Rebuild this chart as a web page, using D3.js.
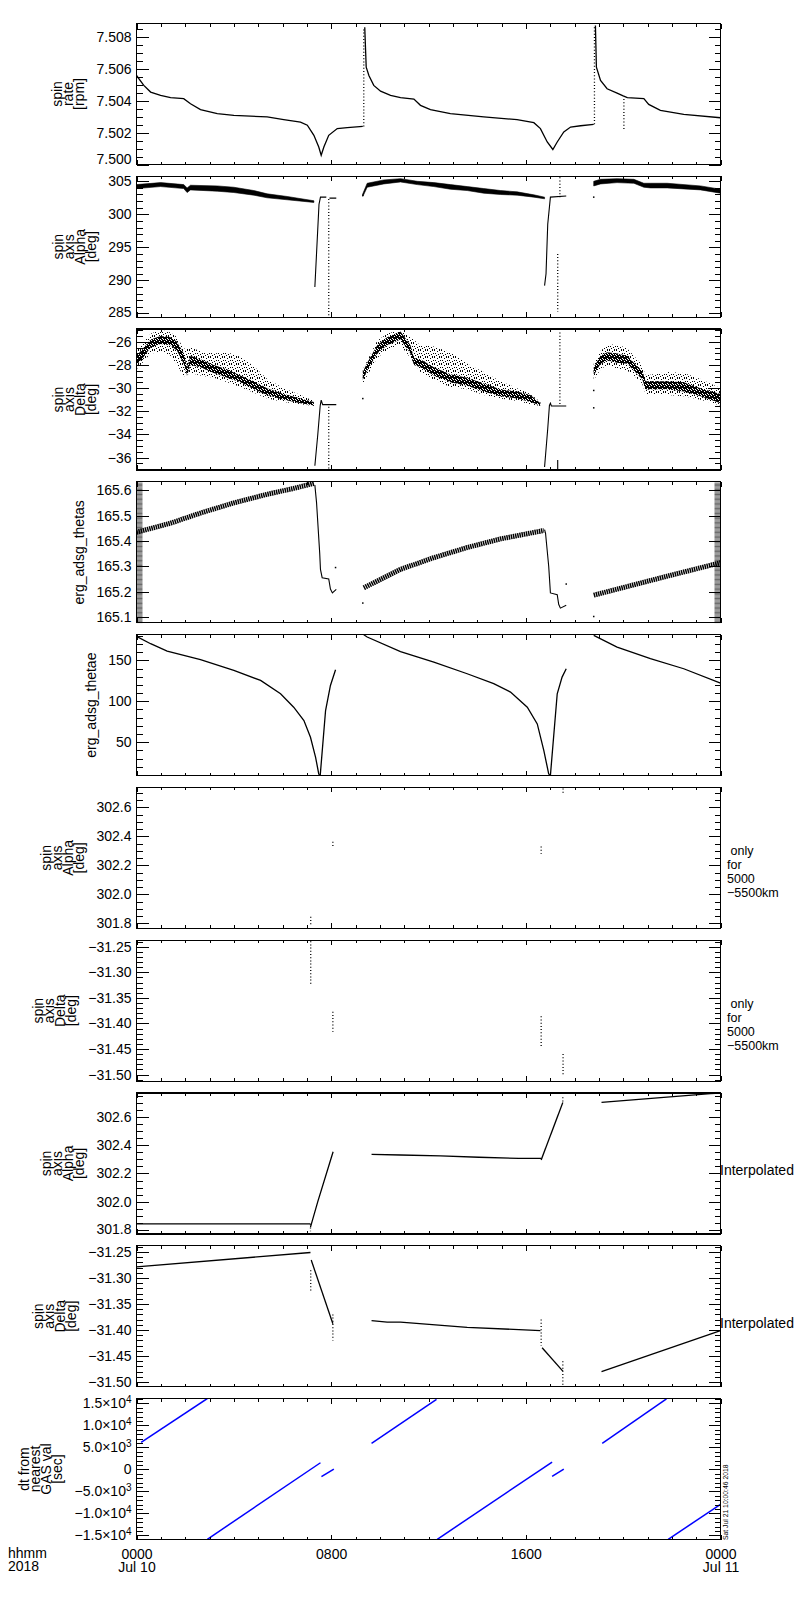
<!DOCTYPE html>
<html>
<head>
<meta charset="utf-8">
<script src="https://cdnjs.cloudflare.com/ajax/libs/d3/7.8.5/d3.min.js"></script>
<style>
  body { margin: 0; background: #fff; }
  text { font-family: "Liberation Sans", Arial, sans-serif; fill: #000; }
</style>
</head>
<body>
<div id="chart"></div>
<script>
// time axis: hours after 0000 Jul 10 2018
var hourTicks = [0, 8, 16, 24];
var hourLabels = ["0000", "0800", "1600", "0000"];
var dayLabels = ["Jul 10", "", "", "Jul 11"];

// ---- panel 1: spin rate [rpm] ----
var rateDomain = [7.5000, 7.50884];
var rateTicks = [7.500, 7.502, 7.504, 7.506, 7.508];
var rateLines = [
  [[0, 7.50558], [0.30, 7.50496], [0.58, 7.50454], [0.99, 7.50433], [1.40, 7.50419], [1.94, 7.50413],
   [2.22, 7.50381], [2.63, 7.50344], [3.32, 7.50319], [4.00, 7.50308], [5.37, 7.50298], [6.05, 7.50281],
   [6.74, 7.50266], [7.02, 7.50246], [7.29, 7.50183], [7.49, 7.50110], [7.59, 7.50058], [7.70, 7.50110],
   [7.90, 7.50183], [8.25, 7.50225], [8.66, 7.50231], [9.30, 7.50239]],
  [[9.38, 7.50860], [9.44, 7.50610], [9.55, 7.50558], [9.75, 7.50496], [10.03, 7.50460], [10.44, 7.50433],
   [10.85, 7.50419], [11.40, 7.50410], [11.67, 7.50371], [12.08, 7.50344], [12.90, 7.50319], [14.27, 7.50298],
   [15.64, 7.50281], [16.33, 7.50262], [16.60, 7.50225], [16.88, 7.50141], [17.11, 7.50094], [17.29, 7.50141],
   [17.56, 7.50204], [17.84, 7.50235], [18.25, 7.50243], [18.79, 7.50252]],
  [[18.86, 7.50871], [18.90, 7.50610], [19.07, 7.50527], [19.34, 7.50475], [19.75, 7.50448], [20.00, 7.50430],
   [20.17, 7.50419], [20.85, 7.50413], [21.05, 7.50377], [21.53, 7.50340], [22.49, 7.50314], [24.00, 7.50293]]
];
var rateDotted = [
  [[9.34, 7.50239], [9.34, 7.50860]],
  [[18.82, 7.50252], [18.82, 7.50871]],
  [[20.03, 7.50410], [20.03, 7.50220]]
];

// ---- panel 2: spin axis alpha [deg] ----
var alphaDomain = [284.4, 305.76];
var alphaTicks = [285, 290, 295, 300, 305];
var alphaBands = [
  [[0, 303.9, 304.5], [0.99, 304.2, 304.8], [1.94, 303.9, 304.5], [2.08, 303.3, 304.0], [2.22, 303.7, 304.4],
   [3.32, 303.5, 304.3], [4.00, 303.3, 304.1], [4.82, 302.9, 303.6], [5.37, 302.5, 303.1], [6.19, 302.2, 302.7],
   [7.29, 301.8, 302.05]],
  [[9.30, 302.7, 303.1], [9.48, 304.1, 304.7], [10.16, 304.6, 305.2], [10.85, 304.9, 305.4], [11.54, 304.5, 305.0],
   [12.22, 304.2, 304.8], [12.90, 303.8, 304.5], [13.59, 303.6, 304.2], [14.27, 303.2, 303.9], [14.96, 303.0, 303.6],
   [15.64, 302.9, 303.4], [16.33, 302.6, 302.95], [16.77, 302.35, 302.6]],
  [[18.79, 304.3, 305.0], [19.07, 304.6, 305.3], [19.75, 304.8, 305.4], [20.44, 304.7, 305.3], [20.85, 304.1, 304.7],
   [21.12, 304.0, 304.7], [21.81, 304.0, 304.7], [23.18, 303.7, 304.3], [24.00, 303.2, 303.8]]
];
var alphaLines = [
  [[7.33, 289.0], [7.50, 301.5], [7.56, 302.6], [7.80, 302.6]],
  [[7.93, 302.45], [8.21, 302.45]],
  [[16.77, 289.2], [16.83, 291.0], [16.90, 298.5], [17.01, 302.6], [17.66, 302.77]]
];
var alphaDotted = [
  [[7.90, 302.3], [7.90, 284.4]],
  [[17.31, 294.0], [17.31, 285.2]],
  [[17.40, 305.6], [17.40, 302.6]]
];
var alphaDots = [[9.30, 302.9], [18.79, 302.6]];

// ---- panel 3: spin axis delta [deg] ----
var deltaDomain = [-37.07, -24.9];
var deltaTicks = [-36, -34, -32, -30, -28, -26];
var deltaScatter = [
  [[0, -28.4, -26.8], [0.58, -27.0, -25.3], [0.99, -26.9, -24.95], [1.40, -27.2, -25.2], [1.67, -28.0, -25.6],
   [1.94, -29.0, -26.6], [2.22, -28.7, -26.5], [2.63, -28.9, -26.8], [3.18, -29.1, -27.0], [3.73, -29.5, -26.9],
   [4.27, -29.9, -27.3], [4.82, -30.4, -28.1], [5.37, -30.9, -29.2], [6.05, -31.2, -30.0], [6.74, -31.4, -30.6],
   [7.29, -31.55, -31.1]],
  [[9.30, -29.6, -28.4], [9.89, -27.4, -25.9], [10.30, -26.7, -25.3], [10.85, -26.3, -24.95], [11.26, -27.4, -25.6],
   [11.67, -28.6, -26.3], [12.22, -29.3, -26.4], [12.90, -29.9, -26.9], [13.59, -30.1, -27.9], [14.27, -30.6, -28.6],
   [14.96, -30.9, -29.4], [15.64, -31.1, -30.0], [16.19, -31.4, -30.5], [16.60, -31.55, -31.2]],
  [[18.79, -29.3, -27.9], [19.07, -28.4, -26.8], [19.34, -28.0, -26.3], [19.75, -28.3, -26.2], [20.17, -28.5, -26.6],
   [20.44, -28.9, -27.2], [20.78, -29.6, -28.0], [20.92, -30.5, -28.9], [21.81, -30.6, -28.6], [22.49, -30.7, -28.7],
   [23.18, -31.0, -29.2], [24.00, -31.5, -30.0]]
];
var deltaCore = [
  [[0, -28.0, -27.2], [0.30, -27.3, -26.5], [0.58, -26.5, -25.8], [0.99, -26.2, -25.5], [1.40, -26.3, -25.6],
   [1.67, -26.8, -26.0], [1.94, -27.9, -27.0], [2.08, -28.9, -28.2], [2.22, -28.0, -27.2], [2.63, -28.2, -27.5],
   [3.18, -28.7, -28.0], [3.73, -29.1, -28.4], [4.27, -29.5, -28.9], [4.82, -30.1, -29.4], [5.37, -30.6, -30.0],
   [6.05, -31.0, -30.5], [6.74, -31.3, -30.9], [7.29, -31.5, -31.2]],
  [[9.30, -29.3, -28.6], [9.48, -28.5, -27.8], [9.89, -27.0, -26.3], [10.30, -26.3, -25.6], [10.85, -25.8, -25.1],
   [11.26, -27.0, -26.3], [11.40, -28.0, -27.4], [11.67, -28.2, -27.5], [12.22, -28.9, -28.2], [12.90, -29.5, -28.8],
   [13.59, -29.8, -29.1], [14.27, -30.3, -29.6], [14.96, -30.7, -30.1], [15.64, -30.9, -30.3], [16.19, -31.2, -30.6],
   [16.60, -31.5, -31.3]],
  [[18.79, -28.9, -28.2], [19.07, -27.9, -27.2], [19.34, -27.6, -26.9], [19.75, -27.8, -27.0], [20.17, -27.9, -27.2],
   [20.44, -28.5, -27.8], [20.78, -29.2, -28.5], [20.92, -30.1, -29.4], [21.81, -30.1, -29.4], [22.49, -30.3, -29.5],
   [23.18, -30.7, -30.0], [24.00, -31.3, -30.5]]
];
var deltaLines = [
  [[7.33, -36.7], [7.45, -34.0], [7.55, -31.5], [7.59, -31.04], [7.65, -31.42], [8.21, -31.42]],
  [[16.77, -36.8], [16.90, -33.5], [16.97, -31.48], [17.01, -31.3], [17.05, -31.54], [17.66, -31.54]],
  [[17.31, -36.2], [17.31, -37.0]]
];
var deltaDotted = [
  [[7.90, -31.6], [7.90, -37.0]],
  [[17.40, -25.2], [17.40, -31.5]]
];
var deltaDots = [[9.30, -30.9], [18.79, -30.2], [18.79, -31.7]];

// ---- panel 4: erg_adsg_thetas ----
var thetasDomain = [165.077, 165.633];
var thetasTicks = [165.1, 165.2, 165.3, 165.4, 165.5, 165.6];
var thetasBands = [
  [[0, 165.434], [1.40, 165.470], [2.63, 165.510], [4.00, 165.550], [5.37, 165.584], [6.46, 165.607], [7.29, 165.627]],
  [[9.34, 165.215], [10.85, 165.288], [12.22, 165.334], [13.59, 165.374], [14.96, 165.408], [16.74, 165.441]],
  [[18.79, 165.186], [20.44, 165.227], [21.81, 165.261], [24.00, 165.314]]
];
var thetasLines = [
  [[7.33, 165.620], [7.40, 165.550], [7.53, 165.350], [7.56, 165.288], [7.63, 165.255], [7.90, 165.250],
   [7.97, 165.210], [8.05, 165.195], [8.21, 165.209]],
  [[16.77, 165.445], [16.81, 165.430], [16.94, 165.300], [17.01, 165.195], [17.29, 165.188], [17.35, 165.150],
   [17.42, 165.135], [17.66, 165.146]]
];
var thetasDots = [[8.18, 165.295], [17.66, 165.230], [9.30, 165.155], [18.79, 165.102]];

// ---- panel 5: erg_adsg_thetae ----
var thetaeDomain = [9.2, 181.5];
var thetaeTicks = [50, 100, 150];
var thetaeLines = [
  [[0, 179.4], [0.58, 170.4], [1.26, 161.4], [2.63, 150.8], [4.00, 137.7], [5.10, 125.5], [5.92, 109.2],
   [6.46, 92.8], [6.88, 76.5], [7.15, 56.1], [7.36, 31.6], [7.49, 11.2], [7.53, 9.5]],
  [[7.55, 9.5], [7.77, 88.7], [7.97, 119.4], [8.18, 138.6]],
  [[9.34, 181.3], [9.48, 178.6], [10.85, 160.8], [12.22, 148.0], [13.59, 133.7], [14.68, 121.5], [15.37, 111.3],
   [16.06, 92.8], [16.47, 72.4], [16.74, 39.8], [16.94, 11.2], [17.00, 9.5]],
  [[17.01, 9.5], [17.29, 109.2], [17.49, 129.6], [17.66, 139.8]],
  [[18.79, 180.6], [19.75, 166.3], [21.12, 152.1], [22.49, 139.8], [24.00, 122.3]]
];

// ---- panels 6-7: spin axis only for 5000-5500 km ----
var alphaOnlyDomain = [301.766, 302.738];
var alphaOnlyTicks = [301.8, 302.0, 302.2, 302.4, 302.6];
var alphaOnlyDotted = [
  [[7.16, 301.846], [7.16, 301.789]],
  [[8.07, 302.363], [8.07, 302.325]],
  [[16.63, 302.330], [16.63, 302.280]],
  [[17.53, 302.730], [17.53, 302.700]]
];
var deltaOnlyDomain = [-31.513, -31.237];
var deltaOnlyTicks = [-31.50, -31.45, -31.40, -31.35, -31.30, -31.25];
var deltaOnlyDotted = [
  [[7.16, -31.239], [7.16, -31.324]],
  [[8.07, -31.377], [8.07, -31.416]],
  [[16.63, -31.386], [16.63, -31.445]],
  [[17.53, -31.460], [17.53, -31.500]]
];

// ---- panels 8-9: spin axis interpolated ----
var alphaInterpDomain = [301.771, 302.771];
var alphaInterpLines = [
  [[0, 301.843], [7.15, 301.843]],
  [[7.15, 301.819], [7.45, 302.000], [8.08, 302.354]],
  [[9.66, 302.336], [10.85, 302.331], [12.49, 302.325], [14.07, 302.315], [15.71, 302.307], [16.63, 302.307]],
  [[16.63, 302.295], [17.52, 302.704]],
  [[19.11, 302.704], [23.59, 302.766], [24.00, 302.770]]
];
var alphaInterpDotted = [
  [[7.15, 301.840], [7.15, 301.790]],
  [[17.52, 302.740], [17.52, 302.700]]
];
var deltaInterpDomain = [-31.509, -31.238];
var deltaInterpLines = [
  [[0, -31.2785], [7.15, -31.251]],
  [[7.18, -31.2655], [8.07, -31.388]],
  [[9.66, -31.382], [10.30, -31.385], [10.85, -31.385], [13.59, -31.395], [16.60, -31.401]],
  [[16.67, -31.434], [17.52, -31.479]],
  [[19.11, -31.480], [24.00, -31.401]]
];
var deltaInterpDotted = [
  [[7.16, -31.285], [7.16, -31.324]],
  [[8.07, -31.370], [8.07, -31.420]],
  [[16.63, -31.380], [16.63, -31.430]],
  [[17.52, -31.460], [17.52, -31.505]]
];

// ---- panel 10: dt from nearest GAS val [sec] ----
var dtDomain = [-15950, 16100];
var dtTicks = [-15000, -10000, -5000, 0, 5000, 10000, 15000];
var dtLines = [
  [[0.19, 6150], [2.91, 16100]],
  [[2.91, -15900], [7.56, 1500]],
  [[7.60, -1660], [8.11, 70]],
  [[9.66, 5920], [12.33, 15900]],
  [[12.36, -15900], [17.08, 1660]],
  [[17.08, -1600], [17.56, 70]],
  [[19.14, 5920], [21.78, 16000]],
  [[21.85, -15900], [24.00, -7970]]
];

// ---------------------------------------------------------------
var svgWidth = 800;
var svgHeight = 1600;
var plotLeft = 136.5;
var plotRight = 720.5;
var panelTop0 = 23.5;
var panelStep = 152.78;
var panelHeight = 141;

var x = d3.scaleLinear().domain([0, 24]).range([plotLeft, plotRight]);

var svg = d3.select("#chart")
  .append("svg")
  .attr("width", svgWidth)
  .attr("height", svgHeight);

// stipple patterns for the noisy delta points
var defs = svg.append("defs");
var stipple = defs.append("pattern")
  .attr("id", "stipple")
  .attr("patternUnits", "userSpaceOnUse")
  .attr("width", 7).attr("height", 7);
[[0, 0], [3, 1], [5, 0], [1, 3], [6, 3], [4, 4], [2, 5], [5, 6], [0, 6]].forEach(function(p) {
  stipple.append("rect").attr("x", p[0]).attr("y", p[1]).attr("width", 1).attr("height", 1).attr("fill", "#000");
});
var dense = defs.append("pattern")
  .attr("id", "dense")
  .attr("patternUnits", "userSpaceOnUse")
  .attr("width", 5).attr("height", 5);
dense.append("rect").attr("width", 5).attr("height", 5).attr("fill", "#000");
[[1, 0], [4, 1], [2, 3], [0, 4], [3, 4]].forEach(function(p) {
  dense.append("rect").attr("x", p[0]).attr("y", p[1]).attr("width", 1).attr("height", 1).attr("fill", "#fff");
});

function fmtDt(d) {
  if (d === 0) return ["0", ""];
  var e = Math.floor(Math.log10(Math.abs(d)));
  var m = d / Math.pow(10, e);
  return [d3.format(".1f")(m) + "\u00d710", String(e)];
}

var panels = [
  { title: ["spin", "rate", "[rpm]"], domain: rateDomain, ticks: rateTicks, minor: 0.0005, fmt: d3.format(".3f"),
    draw: function(g, y) {
      addLines(g, y, rateLines, 1.3);
      addDotted(g, y, rateDotted);
    } },
  { title: ["spin", "axis", "Alpha", "[deg]"], domain: alphaDomain, ticks: alphaTicks, minor: 1, fmt: d3.format("d"),
    draw: function(g, y) {
      addBands(g, y, alphaBands, "#000");
      addLines(g, y, alphaLines, 1.1);
      addDotted(g, y, alphaDotted);
      addDots(g, y, alphaDots);
    } },
  { title: ["spin", "axis", "Delta", "[deg]"], domain: deltaDomain, ticks: deltaTicks, minor: 0.5, fmt: d3.format("d"),
    draw: function(g, y) {
      addBands(g, y, deltaScatter, "url(#stipple)");
      addBands(g, y, deltaCore, "url(#dense)");
      addLines(g, y, deltaLines, 1.1);
      addDotted(g, y, deltaDotted);
      addDots(g, y, deltaDots);
    } },
  { title: ["erg_adsg_thetas"], domain: thetasDomain, ticks: thetasTicks, minor: 0.005, fmt: d3.format(".1f"),
    draw: function(g, y) {
      g.selectAll(null).data(thetasBands).enter().append("path")
        .attr("d", lineOf(y))
        .attr("fill", "none")
        .attr("stroke", "#000")
        .attr("stroke-width", 5)
        .attr("stroke-dasharray", "1.5,0.7");
      addLines(g, y, thetasLines, 1.1);
      addDots(g, y, thetasDots);
    } },
  { title: ["erg_adsg_thetae"], domain: thetaeDomain, ticks: thetaeTicks, minor: 10, fmt: d3.format("d"),
    draw: function(g, y) {
      addLines(g, y, thetaeLines, 1.3);
    } },
  { title: ["spin", "axis", "Alpha", "[deg]"], domain: alphaOnlyDomain, ticks: alphaOnlyTicks, minor: 0.05, fmt: d3.format(".1f"),
    note: [" only", "for", "5000", "\u22125500km"], noteDy: -3, noteSize: 12.5,
    draw: function(g, y) {
      addDotted(g, y, alphaOnlyDotted);
    } },
  { title: ["spin", "axis", "Delta", "[deg]"], domain: deltaOnlyDomain, ticks: deltaOnlyTicks, minor: 0.01, fmt: d3.format(".2f"),
    note: [" only", "for", "5000", "\u22125500km"], noteDy: -3, noteSize: 12.5,
    draw: function(g, y) {
      addDotted(g, y, deltaOnlyDotted);
    } },
  { title: ["spin", "axis", "Alpha", "[deg]"], domain: alphaInterpDomain, ticks: alphaOnlyTicks, minor: 0.05, fmt: d3.format(".1f"),
    note: ["Interpolated"], noteDy: 12, noteX: 720, noteSize: 14,
    draw: function(g, y) {
      addLines(g, y, alphaInterpLines, 1.3);
      addDotted(g, y, alphaInterpDotted);
    } },
  { title: ["spin", "axis", "Delta", "[deg]"], domain: deltaInterpDomain, ticks: deltaOnlyTicks, minor: 0.01, fmt: d3.format(".2f"),
    note: ["Interpolated"], noteDy: 12, noteX: 720, noteSize: 14,
    draw: function(g, y) {
      addLines(g, y, deltaInterpLines, 1.3);
      addDotted(g, y, deltaInterpDotted);
    } },
  { title: ["dt from", "nearest", "GAS val", "[sec]"], domain: dtDomain, ticks: dtTicks, minor: 1000, fmt: null,
    draw: function(g, y) {
      g.selectAll(null).data(dtLines).enter().append("path")
        .attr("d", lineOf(y))
        .attr("fill", "none")
        .attr("stroke", "#0000ff")
        .attr("stroke-width", 1.5);
    } }
];

function lineOf(y) {
  return d3.line().x(function(d) { return x(d[0]); }).y(function(d) { return y(d[1]); });
}

function addLines(g, y, segs, w) {
  g.selectAll(null).data(segs).enter().append("path")
    .attr("d", lineOf(y))
    .attr("fill", "none")
    .attr("stroke", "#000")
    .attr("stroke-width", w);
}

function addDotted(g, y, segs) {
  g.selectAll(null).data(segs).enter().append("path")
    .attr("d", lineOf(y))
    .attr("fill", "none")
    .attr("stroke", "#000")
    .attr("stroke-width", 1.3)
    .attr("stroke-dasharray", "1,2.2");
}

function addBands(g, y, bands, fill) {
  var area = d3.area()
    .x(function(d) { return x(d[0]); })
    .y0(function(d) { return y(d[1]); })
    .y1(function(d) { return y(d[2]); });
  g.selectAll(null).data(bands).enter().append("path")
    .attr("d", area)
    .attr("fill", fill)
    .attr("stroke", fill === "#000" ? "#000" : "none")
    .attr("stroke-width", 0.6);
}

function addDots(g, y, pts) {
  g.selectAll(null).data(pts).enter().append("rect")
    .attr("x", function(d) { return x(d[0]) - 0.75; })
    .attr("y", function(d) { return y(d[1]) - 0.75; })
    .attr("width", 1.5)
    .attr("height", 1.5)
    .attr("fill", "#000");
}

function minorTicks(domain, step) {
  var lo = Math.ceil(domain[0] / step - 1e-6), hi = Math.floor(domain[1] / step + 1e-6);
  return d3.range(lo, hi + 1).map(function(n) { return n * step; });
}

var minorHours = d3.range(0, 25);

panels.forEach(function(p, i) {
  var top = panelTop0 + i * panelStep;
  var bottom = top + panelHeight;
  var y = d3.scaleLinear().domain(p.domain).range([bottom, top]);
  var g = svg.append("g");

  // data, clipped to the frame
  var clipId = "clip" + i;
  defs.append("clipPath").attr("id", clipId)
    .append("rect")
    .attr("x", plotLeft).attr("y", top)
    .attr("width", plotRight - plotLeft).attr("height", panelHeight);
  var dataG = g.append("g").attr("clip-path", "url(#" + clipId + ")");
  p.draw(dataG, y);

  // y axes: labelled left, bare right, ticks inside
  var minors = minorTicks(p.domain, p.minor);
  var crowded = Math.abs(y(minors[1]) - y(minors[0])) < 3;
  var leftMajor = g.append("g")
    .attr("transform", "translate(" + plotLeft + ",0)")
    .call(d3.axisLeft(y).tickValues(p.ticks).tickSize(-12).tickPadding(5)
      .tickFormat(p.fmt ? p.fmt : function() { return ""; }));
  var leftMinor = g.append("g")
    .attr("transform", "translate(" + plotLeft + ",0)")
    .call(d3.axisLeft(y).tickValues(minors).tickSize(-6).tickFormat(""));
  g.append("g")
    .attr("transform", "translate(" + plotRight + ",0)")
    .call(d3.axisRight(y).tickValues(p.ticks).tickSize(-12).tickFormat(""));
  var rightMinor = g.append("g")
    .attr("transform", "translate(" + plotRight + ",0)")
    .call(d3.axisRight(y).tickValues(minors).tickSize(-6).tickFormat(""));

  // x axes on top and bottom of every panel
  g.append("g")
    .attr("transform", "translate(0," + top + ")")
    .call(d3.axisTop(x).tickValues(minorHours).tickSize(-3).tickFormat(""));
  g.append("g")
    .attr("transform", "translate(0," + top + ")")
    .call(d3.axisTop(x).tickValues(hourTicks).tickSize(-5).tickFormat(""));
  g.append("g")
    .attr("transform", "translate(0," + bottom + ")")
    .call(d3.axisBottom(x).tickValues(minorHours).tickSize(-3).tickFormat(""));
  var xAxis = g.append("g")
    .attr("transform", "translate(0," + bottom + ")")
    .call(d3.axisBottom(x).tickValues(hourTicks).tickSize(-5).tickPadding(10)
      .tickFormat(i === panels.length - 1 ? function(d, k) { return hourLabels[k]; } : ""));

  g.selectAll(".domain").remove();
  g.selectAll(".tick line").attr("stroke", "#000").attr("stroke-width", 1).attr("shape-rendering", "crispEdges");
  if (crowded) {
    leftMinor.selectAll(".tick line").attr("stroke-width", 0.6).attr("shape-rendering", null);
    rightMinor.selectAll(".tick line").attr("stroke-width", 0.6).attr("shape-rendering", null);
  }
  g.selectAll(".tick text").attr("font-size", 14).attr("fill", "#000").attr("font-family", "Liberation Sans, Arial, sans-serif");

  // keep the lowest label inside the frame
  leftMajor.selectAll(".tick text").attr("y", function(d) {
    var py = y(d);
    return py > bottom - 5 ? (bottom - 5) - py : 0;
  });

  // powers of ten for the dt axis
  if (!p.fmt) {
    leftMajor.selectAll(".tick text").each(function(d) {
      var parts = fmtDt(d);
      var t = d3.select(this).text("");
      t.append("tspan").text(parts[0]);
      if (parts[1]) {
        t.append("tspan").attr("dy", "-0.5em").attr("font-size", 10).text(parts[1]);
      }
    });
  }

  // frame
  g.append("rect")
    .attr("x", plotLeft).attr("y", top)
    .attr("width", plotRight - plotLeft).attr("height", panelHeight)
    .attr("fill", "none").attr("stroke", "#000").attr("stroke-width", 1.2)
    .attr("shape-rendering", "crispEdges");

  // y title, stacked rotated lines placed left of the tick labels
  var labelW = 0;
  leftMajor.selectAll(".tick text").each(function() {
    labelW = Math.max(labelW, this.getBBox().width);
  });
  var lastBase = plotLeft - 5 - labelW - 12;
  var lineGap = 11;
  var firstBase = lastBase - (p.title.length - 1) * lineGap;
  var yc = (top + bottom) / 2;
  var title = g.append("text")
    .attr("transform", "translate(" + firstBase + "," + yc + ") rotate(-90)")
    .attr("text-anchor", "middle")
    .attr("font-size", 14);
  p.title.forEach(function(line, k) {
    title.append("tspan").attr("x", 0).attr("dy", k === 0 ? 0 : lineGap).text(line);
  });

  // note to the right of the frame
  if (p.note) {
    var noteX = p.noteX || 727;
    var note = g.append("text")
      .attr("x", noteX)
      .attr("y", yc + p.noteDy)
      .attr("font-size", p.noteSize)
      .style("white-space", "pre");
    p.note.forEach(function(line, k) {
      note.append("tspan").attr("x", noteX).attr("dy", k === 0 ? 0 : 14).text(line);
    });
  }

  // second line of the time labels
  if (i === panels.length - 1) {
    xAxis.selectAll(".tick text").each(function(d, k) {
      d3.select(this).append("tspan").attr("x", 0).attr("dy", 13).text(dayLabels[k]);
    });
  }
});

// corner labels and date stamp
svg.append("text").attr("x", 8).attr("y", 1558).attr("font-size", 14).text("hhmm");
svg.append("text").attr("x", 8).attr("y", 1571).attr("font-size", 14).text("2018");
svg.append("text")
  .attr("transform", "translate(728,1540) rotate(-90)")
  .attr("font-size", 6.8)
  .text("Sat Jul 21 10:00:46 2018");
</script>
</body>
</html>
